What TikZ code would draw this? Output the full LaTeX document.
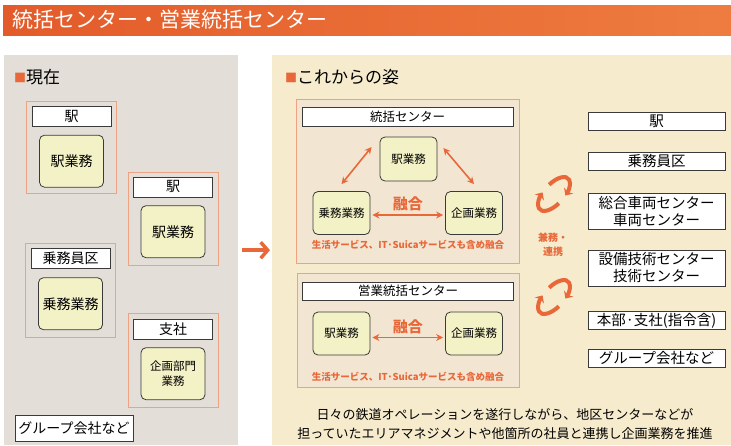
\documentclass[tikz,border=0pt]{standalone}
\usepackage{fontspec}
\setmainfont{Noto Sans CJK JP}
\usetikzlibrary{positioning,arrows.meta}

\definecolor{barorange}{HTML}{E35B2A}
\definecolor{barlight}{HTML}{EE7C40}
\definecolor{lineorange}{HTML}{E8683A}
\definecolor{edgeorange}{HTML}{EFA282}
\definecolor{panelgrey}{HTML}{E3DFD8}
\definecolor{panelbeige}{HTML}{F6EBCC}
\definecolor{groupbeige}{HTML}{F2E6D2}
\definecolor{workfill}{HTML}{F3F1C6}
\definecolor{ink}{HTML}{3A3A3A}

\tikzstyle{panel} = [rectangle, anchor=north west, inner sep=0pt]
\tikzstyle{group} = [rectangle, draw=edgeorange, line width=1pt, inner sep=0pt]
\tikzstyle{header} = [rectangle, draw=ink, fill=white, line width=0.8pt, inner sep=0pt, text centered, font=\fontsize{14}{16}\selectfont]
\tikzstyle{work} = [rectangle, rounded corners=5pt, draw=ink, fill=workfill, line width=0.8pt, inner sep=0pt, text centered, align=center, font=\fontsize{14}{16}\selectfont]
\tikzstyle{unit} = [rectangle, draw=ink, fill=white, line width=0.8pt, inner sep=0pt, minimum width=137pt, minimum height=18pt, text centered, align=center, font=\fontsize{14.5}{17}\selectfont]
\tikzstyle{heading} = [anchor=west, inner sep=0pt, font=\fontsize{17}{17}\selectfont]
\tikzstyle{arrow} = [line width=1.6pt, <->, >={Stealth[length=7pt,width=7pt]}, draw=lineorange]
\tikzstyle{bigarrow} = [line width=3.5pt, -{Straight Barb[length=7pt,width=16pt]}, draw=lineorange]
\tikzstyle{cyclearrow} = [line width=4pt, ->, >={Stealth[length=6pt,width=11pt]}, draw=lineorange]
\tikzstyle{fusion} = [text=lineorange, inner sep=1pt, font=\fontsize{15}{15}\selectfont\bfseries]
\tikzstyle{note} = [text=lineorange, inner sep=0pt, font=\fontsize{9.5}{10}\selectfont\bfseries]

\newcommand{\sqmark}{{\color{lineorange}\raisebox{1pt}{\fontsize{12}{12}\selectfont■}}}

\begin{document}
\begin{tikzpicture}[x=1pt, y=-1pt, node distance=21pt]
		\useasboundingbox (0,0) rectangle (731,445);

		\node (bar) [panel, left color=barorange, right color=barlight, minimum width=728pt, minimum height=30pt] at (3,5) {};
		\node (title) [anchor=west, inner sep=0pt, text=white, font=\fontsize{21}{21}\selectfont] at (12,20) {統括センター・営業統括センター};

		\node (now) [panel, fill=panelgrey, minimum width=234pt, minimum height=390pt] at (4,55) {};
		\node (future) [panel, fill=panelbeige, minimum width=459pt, minimum height=390pt] at (272,55) {};
		\node (nowtitle) [heading] at (14,77) {\sqmark 現在};
		\node (futuretitle) [heading] at (285,77) {\sqmark これからの姿};

		\node (stnA) [group, minimum width=90pt, minimum height=92pt] at (71.5,147.5) {};
		\node (stnAhead) [header, minimum width=79pt, minimum height=20pt, below=5pt of stnA.north] {駅};
		\node (stnAwork) [work, minimum width=64pt, minimum height=52pt, below=8pt of stnAhead] {駅業務};

		\node (stnB) [group, minimum width=90pt, minimum height=93pt] at (173,218.5) {};
		\node (stnBhead) [header, minimum width=79pt, minimum height=20pt, below=5pt of stnB.north] {駅};
		\node (stnBwork) [work, minimum width=64pt, minimum height=52pt, below=8pt of stnBhead] {駅業務};

		\node (crew) [group, minimum width=90pt, minimum height=94pt] at (70.5,290) {};
		\node (crewhead) [header, minimum width=79pt, minimum height=20pt, below=5pt of crew.north] {乗務員区};
		\node (crewwork) [work, minimum width=64pt, minimum height=52pt, below=9pt of crewhead] {乗務業務};

		\node (branch) [group, minimum width=90pt, minimum height=94pt] at (173,360) {};
		\node (branchhead) [header, minimum width=79pt, minimum height=20pt, below=6pt of branch.north] {支社};
		\node (branchwork) [work, minimum width=64pt, minimum height=52pt, below=8pt of branchhead, font=\fontsize{11.5}{15}\selectfont] {企画部門\\業務};

		\node (groupco) [header, minimum width=118pt, minimum height=26pt] at (74,428.5) {グループ会社など};

		\draw [bigarrow] ([xshift=4pt]now.east) -- ([xshift=-2pt]future.west);

		\node (hubA) [group, fill=groupbeige, minimum width=223pt, minimum height=164pt] at (407.5,181) {};
		\node (hubAhead) [header, minimum width=211pt, minimum height=19pt, below=8pt of hubA.north, font=\fontsize{12.5}{14}\selectfont] {統括センター};
		\node (hubAstn) [work, minimum width=57pt, minimum height=44pt, font=\fontsize{11.5}{14}\selectfont] at (408.5,159) {駅業務};
		\node (hubAcrew) [work, minimum width=57pt, minimum height=43pt, font=\fontsize{11.5}{14}\selectfont] at (341.5,213) {乗務業務};
		\node (hubAplan) [work, minimum width=57pt, minimum height=43pt, font=\fontsize{11.5}{14}\selectfont] at (474,213) {企画業務};
		\draw [arrow] ([xshift=-8pt,yshift=12pt]hubAstn.west) -- ([yshift=7pt]hubAcrew.north);
		\draw [arrow] ([xshift=6pt,yshift=11pt]hubAstn.east) -- ([yshift=7pt]hubAplan.north);
		\draw [arrow] ([xshift=2pt,yshift=-2pt]hubAcrew.east) -- node [fusion, above=2pt] {融合} ([xshift=-2pt,yshift=-2pt]hubAplan.west);
		\node (hubAnote) [note] at (408,245) {生活サービス、IT·Suicaサービスも含め融合};

		\node (hubB) [group, fill=groupbeige, minimum width=222pt, minimum height=114pt] at (408,330) {};
		\node (hubBhead) [header, minimum width=211pt, minimum height=18pt, below=9pt of hubB.north, font=\fontsize{12.5}{14}\selectfont] {営業統括センター};
		\node (hubBstn) [work, minimum width=57pt, minimum height=43pt, font=\fontsize{11.5}{14}\selectfont] at (341.5,333.5) {駅業務};
		\node (hubBplan) [work, minimum width=57pt, minimum height=43pt, font=\fontsize{11.5}{14}\selectfont] at (474,333.5) {企画業務};
		\draw [arrow] ([xshift=2pt,yshift=-4pt]hubBstn.east) -- node [fusion, above=2pt] {融合} ([xshift=-2pt,yshift=-4pt]hubBplan.west);
		\node (hubBnote) [note] at (408,377) {生活サービス、IT·Suicaサービスも含め融合};

		\foreach \cy in {194,297} {
			\begin{scope}[shift={(554,\cy)}, x=1pt, y=1pt, rotate=48]
				\draw [cyclearrow] (80:21 and 10) arc [start angle=80, end angle=-72, x radius=21, y radius=10];
				\draw [cyclearrow] (260:21 and 10) arc [start angle=260, end angle=108, x radius=21, y radius=10];
			\end{scope}
		}
		\node (dual) [note, align=center, font=\fontsize{10}{14}\selectfont\bfseries] at (553,245) {兼務・\\連携};

		\node (uStn) [unit] at (656.5,121.5) {駅};
		\node (uCrew) [unit, below=of uStn] {乗務員区};
		\node (uCar) [unit, minimum height=36pt, below=22pt of uCrew] {総合車両センター\\車両センター};
		\node (uTech) [unit, minimum height=36pt, below=20pt of uCar] {設備技術センター\\技術センター};
		\node (uHq) [unit, below=25pt of uTech] {本部·支社(指令含)};
		\node (uGrp) [unit, below=19pt of uHq] {グループ会社など};

		\node (summary) [align=center, inner sep=0pt, font=\fontsize{13}{19}\selectfont] at (505,424) {日々の鉄道オペレーションを遂行しながら、地区センターなどが\\担っていたエリアマネジメントや他箇所の社員と連携し企画業務を推進};
\end{tikzpicture}
\end{document}
